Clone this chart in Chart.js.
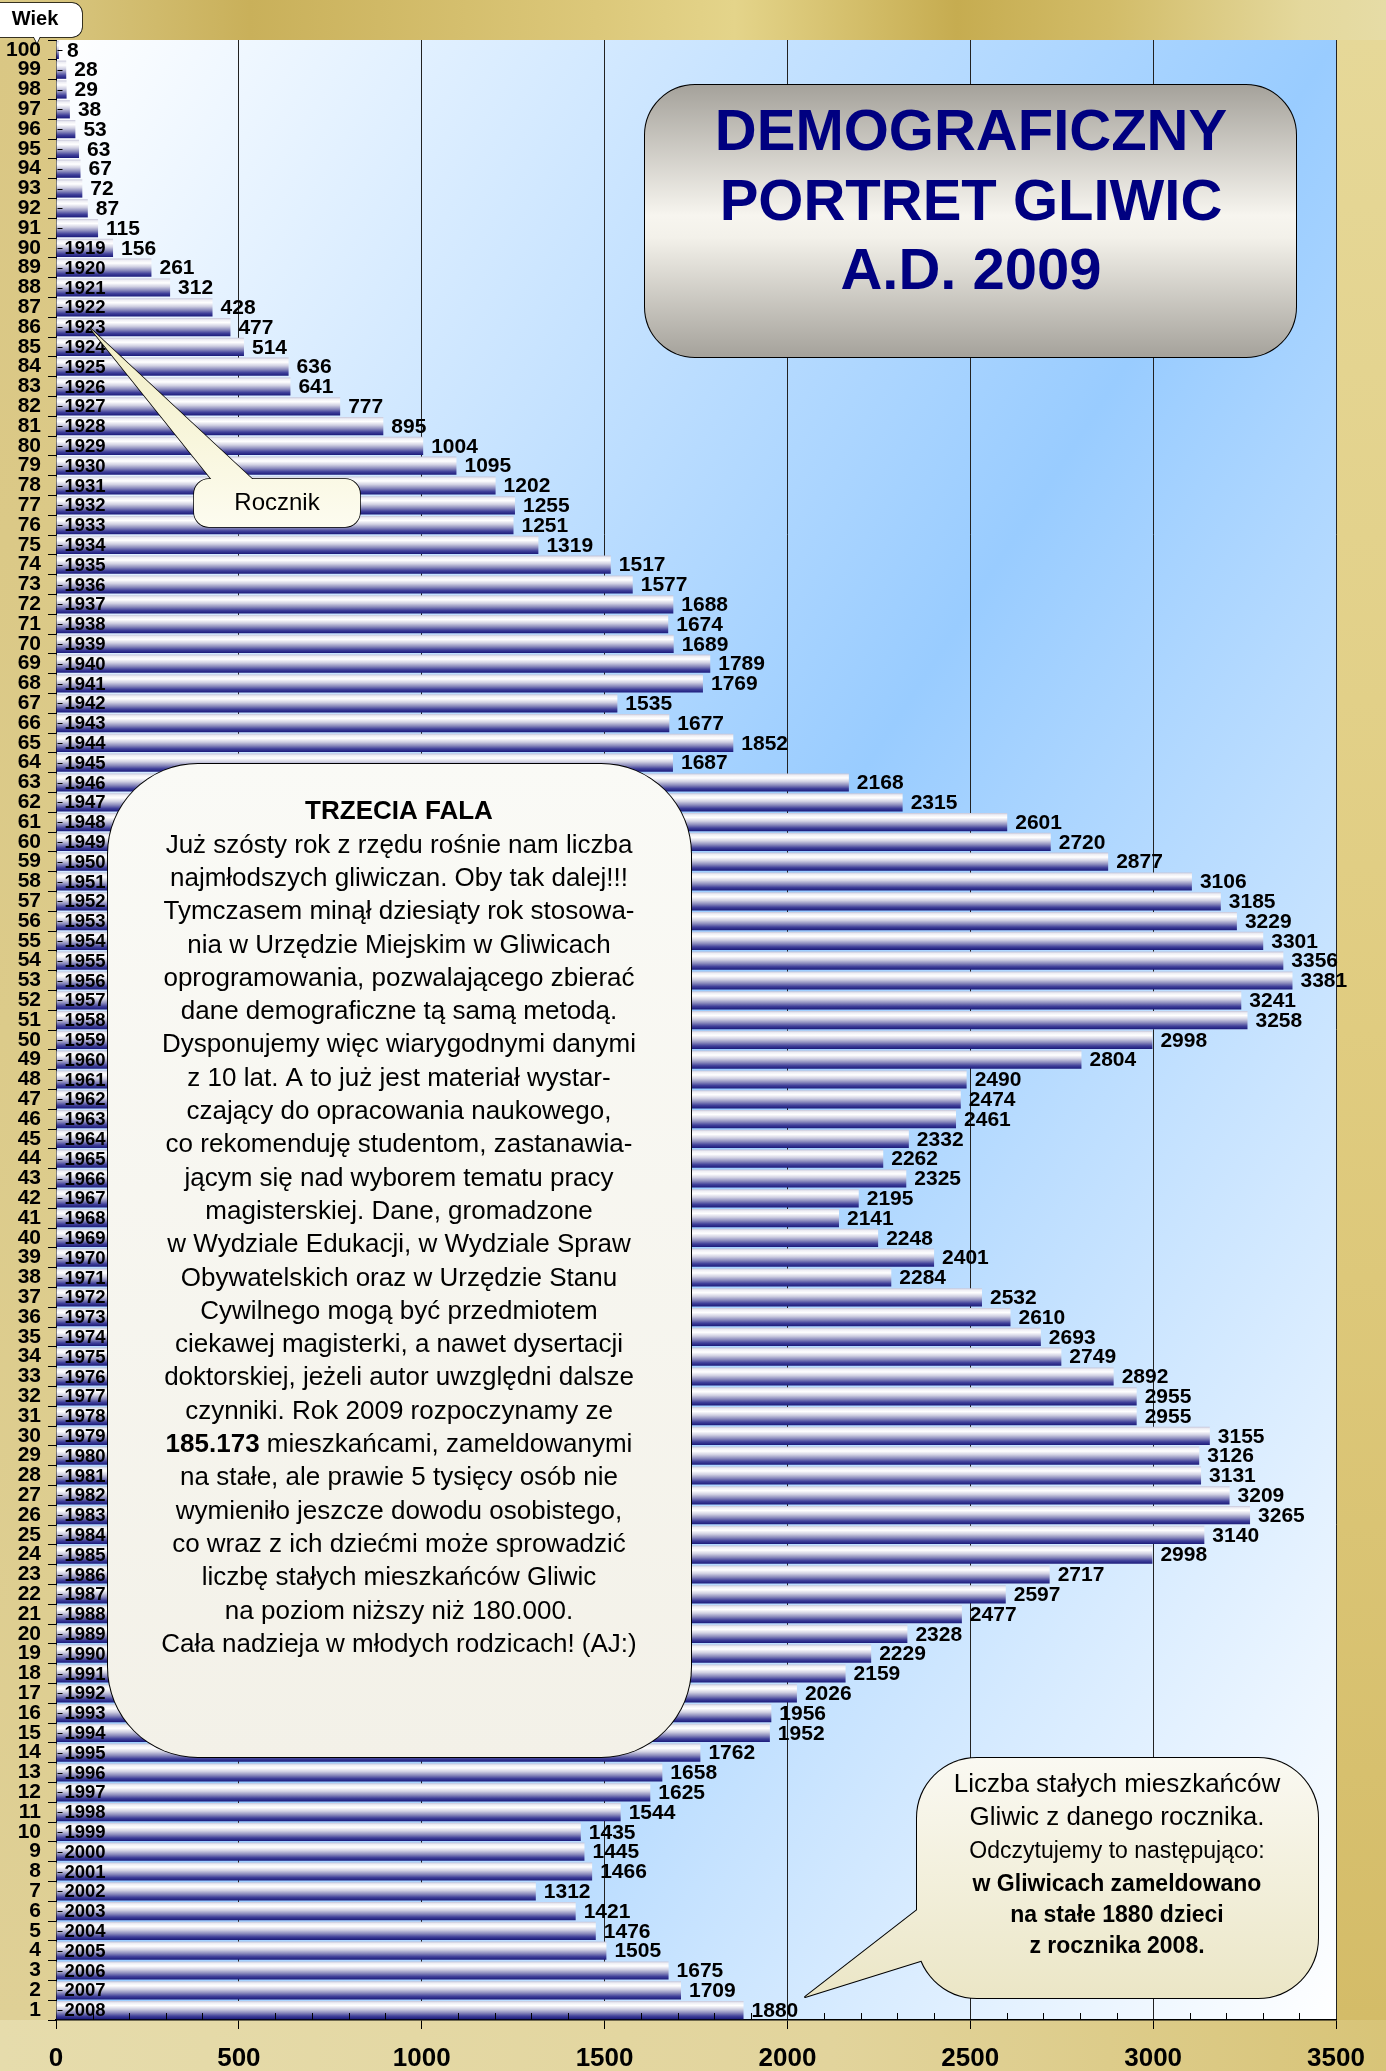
<!DOCTYPE html>
<html><head><meta charset="utf-8">
<script src="https://cdn.jsdelivr.net/npm/chart.js@4.4.1/dist/chart.umd.min.js"></script>
<style>html,body{margin:0;padding:0;background:#e2d49a;}canvas{display:block;}</style>
</head><body>
<canvas id="c" width="1386" height="2071" style="width:1386px;height:2071px"></canvas>
<script>
// ---- DATA (top row = age 100, bottom row = age 1) ----
const ages = ['100','99','98','97','96','95','94','93','92','91',
'90','89','88','87','86','85','84','83','82','81',
'80','79','78','77','76','75','74','73','72','71',
'70','69','68','67','66','65','64','63','62','61',
'60','59','58','57','56','55','54','53','52','51',
'50','49','48','47','46','45','44','43','42','41',
'40','39','38','37','36','35','34','33','32','31',
'30','29','28','27','26','25','24','23','22','21',
'20','19','18','17','16','15','14','13','12','11',
'10','9','8','7','6','5','4','3','2','1'];
const counts = [8,28,29,38,53,63,67,72,87,115,
156,261,312,428,477,514,636,641,777,895,
1004,1095,1202,1255,1251,1319,1517,1577,1688,1674,
1689,1789,1769,1535,1677,1852,1687,2168,2315,2601,
2720,2877,3106,3185,3229,3301,3356,3381,3241,3258,
2998,2804,2490,2474,2461,2332,2262,2325,2195,2141,
2248,2401,2284,2532,2610,2693,2749,2892,2955,2955,
3155,3126,3131,3209,3265,3140,2998,2717,2597,2477,
2328,2229,2159,2026,1956,1952,1762,1658,1625,1544,
1435,1445,1466,1312,1421,1476,1505,1675,1709,1880];
const years = ['','','','','','','','','','',
'1919','1920','1921','1922','1923','1924','1925','1926','1927','1928',
'1929','1930','1931','1932','1933','1934','1935','1936','1937','1938',
'1939','1940','1941','1942','1943','1944','1945','1946','1947','1948',
'1949','1950','1951','1952','1953','1954','1955','1956','1957','1958',
'1959','1960','1961','1962','1963','1964','1965','1966','1967','1968',
'1969','1970','1971','1972','1973','1974','1975','1976','1977','1978',
'1979','1980','1981','1982','1983','1984','1985','1986','1987','1988',
'1989','1990','1991','1992','1993','1994','1995','1996','1997','1998',
'1999','2000','2001','2002','2003','2004','2005','2006','2007','2008'];
const xTicks = [0,500,1000,1500,2000,2500,3000,3500];
const axisTitle = 'Wiek';
const calloutYear = 'Rocznik';
const titleLines = ['DEMOGRAFICZNY','PORTRET GLIWIC','A.D. 2009'];
const noteHead = 'TRZECIA FALA';
const noteLines = [
'Już szósty rok z rzędu rośnie nam liczba',
'najmłodszych gliwiczan. Oby tak dalej!!!',
'Tymczasem minął dziesiąty rok stosowa-',
'nia w Urzędzie Miejskim w Gliwicach',
'oprogramowania, pozwalającego zbierać',
'dane demograficzne tą samą metodą.',
'Dysponujemy więc wiarygodnymi danymi',
'z 10 lat. A to już jest materiał wystar-',
'czający do opracowania naukowego,',
'co rekomenduję studentom, zastanawia-',
'jącym się nad wyborem tematu pracy',
'magisterskiej. Dane, gromadzone',
'w Wydziale Edukacji, w Wydziale Spraw',
'Obywatelskich oraz w Urzędzie Stanu',
'Cywilnego mogą być przedmiotem',
'ciekawej magisterki, a nawet dysertacji',
'doktorskiej, jeżeli autor uwzględni dalsze',
'czynniki. Rok 2009 rozpoczynamy ze',
['185.173',' mieszkańcami, zameldowanymi'],
'na stałe, ale prawie 5 tysięcy osób nie',
'wymieniło jeszcze dowodu osobistego,',
'co wraz z ich dziećmi może sprowadzić',
'liczbę stałych mieszkańców Gliwic',
'na poziom niższy niż 180.000.',
'Cała nadzieja w młodych rodzicach! (AJ:)'];
const legendLines = [
 ['Liczba stałych mieszkańców', 'normal', 26],
 ['Gliwic z danego rocznika.', 'normal', 26],
 ['Odczytujemy to następująco:', 'normal', 23],
 ['w Gliwicach zameldowano', 'bold', 23],
 ['na stałe 1880 dzieci', 'bold', 23],
 ['z rocznika 2008.', 'bold', 23]];

// ---- RENDERING ----
const F = '"Liberation Sans", Arial, Helvetica, sans-serif';
const BAR_PCT = 0.92;

function barFill(ctx){
  const chart = ctx.chart;
  const ys = chart.scales && chart.scales.y;
  if (!ys || ctx.dataIndex === undefined || !ys.height) return '#6a6aa8';
  const yc = ys.getPixelForValue(ctx.dataIndex);
  const half = ys.height / ages.length * BAR_PCT / 2;
  const g = chart.ctx.createLinearGradient(0, yc - half, 0, yc + half);
  g.addColorStop(0, '#c4c4d8');
  g.addColorStop(0.1, '#eeeef4');
  g.addColorStop(0.25, '#ffffff');
  g.addColorStop(0.45, '#d0d0e2');
  g.addColorStop(0.65, '#8a8abc');
  g.addColorStop(0.83, '#40409a');
  g.addColorStop(1, '#1a1a7a');
  return g;
}

function rr(c, x, y, w, h, r){
  c.beginPath();
  c.moveTo(x + r, y);
  c.lineTo(x + w - r, y);
  c.arcTo(x + w, y, x + w, y + r, r);
  c.lineTo(x + w, y + h - r);
  c.arcTo(x + w, y + h, x + w - r, y + h, r);
  c.lineTo(x + r, y + h);
  c.arcTo(x, y + h, x, y + h - r, r);
  c.lineTo(x, y + r);
  c.arcTo(x, y, x + r, y, r);
  c.closePath();
}
function poly(c, pts){
  c.beginPath();
  c.moveTo(pts[0][0], pts[0][1]);
  for (let i = 1; i < pts.length; i++) c.lineTo(pts[i][0], pts[i][1]);
  c.closePath();
}
function callout(c, box, pts, fill, lw){
  c.save();
  c.lineWidth = lw; c.strokeStyle = '#000'; c.lineJoin = 'round';
  if (pts) { poly(c, pts); c.stroke(); }
  rr(c, box[0], box[1], box[2], box[3], box[4]); c.stroke();
  c.fillStyle = fill;
  if (pts) { poly(c, pts); c.fill(); }
  rr(c, box[0], box[1], box[2], box[3], box[4]); c.fill();
  c.restore();
}

const bgPlugin = {
  id: 'bgPlugin',
  beforeDraw(chart){
    const c = chart.ctx, a = chart.chartArea, W = chart.width, H = chart.height;
    c.save();
    c.fillStyle = '#e2d49a'; c.fillRect(0, 0, W, H);
    let g = c.createLinearGradient(0, 0, W, 0);
    g.addColorStop(0, '#dccb88'); g.addColorStop(0.18, '#c9b05a'); g.addColorStop(0.43, '#dcc87a');
    g.addColorStop(0.53, '#e4d48a'); g.addColorStop(0.69, '#c6ac50'); g.addColorStop(0.8, '#d2bc68');
    g.addColorStop(0.94, '#e4d89c'); g.addColorStop(1, '#e6dca6');
    c.fillStyle = g; c.fillRect(0, 0, W, a.top);
    g = c.createLinearGradient(0, a.top, 0, a.bottom);
    g.addColorStop(0, '#dac784'); g.addColorStop(0.5, '#dccb8a'); g.addColorStop(1, '#dfd096');
    c.fillStyle = g; c.fillRect(0, a.top, a.left, a.bottom - a.top);
    g = c.createLinearGradient(0, a.top, 0, a.bottom);
    g.addColorStop(0, '#e6d898'); g.addColorStop(0.5, '#e0cc80'); g.addColorStop(1, '#d4bc68');
    c.fillStyle = g; c.fillRect(a.right, a.top, W - a.right, a.bottom - a.top);
    g = c.createLinearGradient(0, 0, W, 0);
    g.addColorStop(0, '#e6dcac'); g.addColorStop(0.6, '#e2d49c'); g.addColorStop(1, '#d8c478');
    c.fillStyle = g; c.fillRect(0, a.bottom, W, H - a.bottom);
    const dx = a.right - a.left, dy = a.bottom - a.top;
    const k = 2 * dx * dy / (dx * dx + dy * dy);
    g = c.createLinearGradient(a.left, a.top, a.left + k * dy, a.top + k * dx);
    g.addColorStop(0, '#ffffff'); g.addColorStop(0.5, '#99ccff'); g.addColorStop(1, '#ffffff');
    c.fillStyle = g; c.fillRect(a.left, a.top, dx, dy);
    c.restore();
  },
  afterDatasetsDraw(chart){
    const c = chart.ctx, meta = chart.getDatasetMeta(0);
    c.save();
    c.fillStyle = '#000'; c.strokeStyle = '#000'; c.lineWidth = 1;
    c.textBaseline = 'middle'; c.textAlign = 'left';
    meta.data.forEach((el, i) => {
      const yy = Math.round(el.y) + 0.5;
      c.beginPath(); c.moveTo(el.base + 1, yy); c.lineTo(el.base + 6, yy); c.stroke();
      if (years[i]) { c.font = 'bold 18.5px ' + F; c.fillText(years[i], el.base + 8, el.y + 1); }
      c.font = 'bold 21px ' + F;
      c.fillText(String(counts[i]), el.x + 8, el.y + 1);
    });
    const xs = chart.scales.x, yb = chart.chartArea.bottom;
    for (let v = 100; v < 3500; v += 100) {
      if (v % 500 === 0) continue;
      const px = Math.round(xs.getPixelForValue(v)) + 0.5;
      c.beginPath(); c.moveTo(px, yb - 7); c.lineTo(px, yb); c.stroke();
    }
    c.restore();
  },
  afterDraw(chart){
    const c = chart.ctx;
    c.save();
    callout(c, [-12, 3, 94, 34, 10], [[30, 30], [43, 30], [37, 43]], '#ffffff', 1.5);
    c.fillStyle = '#000'; c.font = 'bold 20px ' + F; c.textAlign = 'center'; c.textBaseline = 'middle';
    c.fillText(axisTitle, 35, 19);
    let g = c.createLinearGradient(0, 85, 0, 357);
    g.addColorStop(0, '#a5a29b'); g.addColorStop(0.48, '#f7f5ef'); g.addColorStop(0.56, '#f3f1ea'); g.addColorStop(1, '#a5a29b');
    callout(c, [645, 85, 651, 272, 50], null, g, 2);
    c.fillStyle = '#000080'; c.font = 'bold 58px ' + F;
    titleLines.forEach((t, i) => c.fillText(t, 971, 134 + i * 69.5));
    g = c.createLinearGradient(0, 330, 0, 528);
    g.addColorStop(0, '#f2eec4'); g.addColorStop(1, '#fdfcf0');
    callout(c, [194, 479, 166, 48, 15], [[220, 490], [90, 328], [264, 490]], g, 1.5);
    c.fillStyle = '#000'; c.font = '24px ' + F;
    c.fillText(calloutYear, 277, 503);
    g = c.createLinearGradient(0, 764, 0, 1757);
    g.addColorStop(0, '#fafaf6'); g.addColorStop(1, '#f3f1e8');
    callout(c, [108, 764, 583, 993, 90], null, g, 2);
    c.fillStyle = '#000'; c.font = 'bold 26px ' + F;
    c.fillText(noteHead, 399, 812);
    noteLines.forEach((t, i) => {
      const y = 845.5 + i * 33.3;
      if (Array.isArray(t)) {
        c.font = 'bold 26px ' + F; const w1 = c.measureText(t[0]).width;
        c.font = '26px ' + F; const w2 = c.measureText(t[1]).width;
        const x0 = 399 - (w1 + w2) / 2;
        c.textAlign = 'left';
        c.font = 'bold 26px ' + F; c.fillText(t[0], x0, y);
        c.font = '26px ' + F; c.fillText(t[1], x0 + w1, y);
        c.textAlign = 'center';
      } else {
        c.font = '26px ' + F; c.fillText(t, 399, y);
      }
    });
    g = c.createLinearGradient(0, 1758, 0, 1998);
    g.addColorStop(0, '#faf9f2'); g.addColorStop(1, '#ebe6c6');
    callout(c, [917, 1758, 401, 240, 60], [[930, 1900], [805, 1997], [930, 1958]], g, 2);
    const ly = [1785, 1818, 1852, 1885, 1916, 1947];
    legendLines.forEach((l, i) => {
      c.font = (l[1] === 'bold' ? 'bold ' : '') + l[2] + 'px ' + F;
      c.fillText(l[0], 1117, ly[i]);
    });
    c.restore();
  }
};

new Chart(document.getElementById('c'), {
  type: 'bar',
  data: {
    labels: ages,
    datasets: [{ data: counts, backgroundColor: barFill, borderWidth: 0,
      barPercentage: BAR_PCT, categoryPercentage: 1.0 }]
  },
  options: {
    indexAxis: 'y',
    responsive: false,
    devicePixelRatio: 1,
    animation: false,
    layout: { padding: { top: 40, right: 50, left: 0, bottom: 0 } },
    plugins: { legend: { display: false }, tooltip: { enabled: false } },
    scales: {
      x: {
        type: 'linear', position: 'bottom', min: 0, max: 3500,
        afterBuildTicks(scale){ scale.ticks = xTicks.map(v => ({ value: v })); },
        afterFit(scale){ scale.height = 51; },
        grid: { color: '#222', lineWidth: 1, tickLength: 9, tickColor: '#000' },
        border: { display: true, color: '#000', width: 1.5 },
        ticks: { autoSkip: false, maxRotation: 0, color: '#000', padding: 17,
          callback: (v) => String(v),
          font: { family: F, size: 26, weight: 'bold', lineHeight: 1.0 } }
      },
      y: {
        type: 'category', position: 'left',
        afterFit(scale){ scale.width = 56; },
        grid: { offset: true, drawOnChartArea: false, tickLength: 8, color: '#000', lineWidth: 1 },
        border: { display: true, color: '#000', width: 1 },
        ticks: { autoSkip: false, color: '#000', padding: 7,
          font: { family: F, size: 21, weight: 'bold', lineHeight: 1.0 } }
      }
    }
  },
  plugins: [bgPlugin]
});
</script>
</body></html>
